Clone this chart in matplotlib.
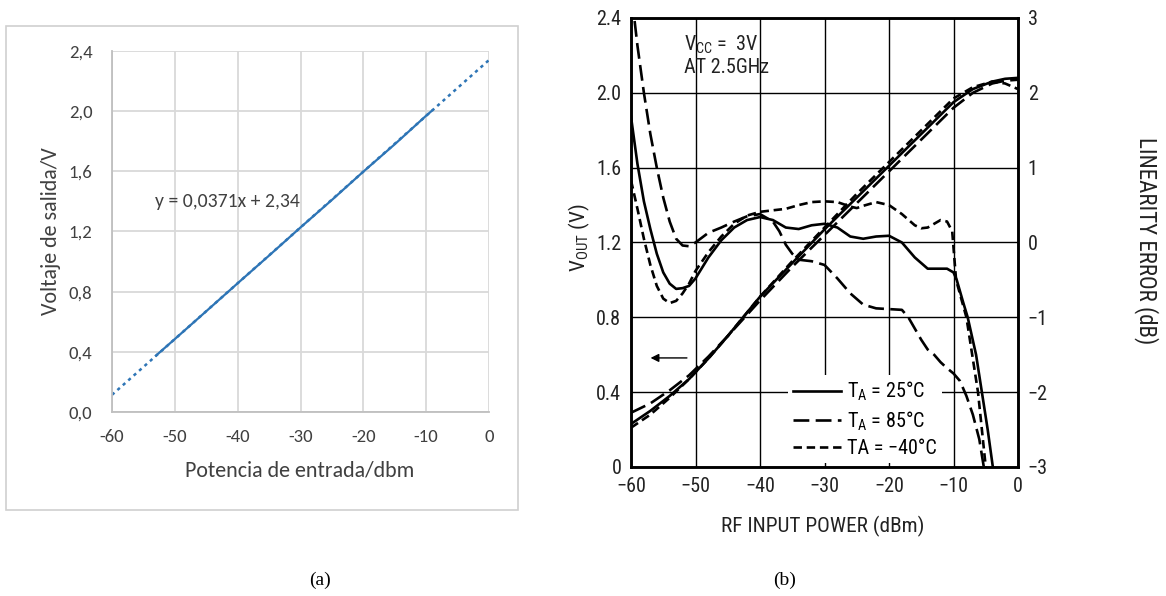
import numpy as np
import matplotlib
matplotlib.use("Agg")
import matplotlib.pyplot as plt
from matplotlib.patches import Rectangle

# ---------------- panel (a) data ----------------
a_power = [-53, -50, -45, -40, -35, -30, -25, -20, -15, -10, -9]
a_vout = [0.375, 0.485, 0.67, 0.856, 1.04, 1.227, 1.41, 1.598, 1.78, 1.97, 2.006]
fit_slope, fit_icpt = 0.0371, 2.34
a_xticks = [-60, -50, -40, -30, -20, -10, 0]
a_yticks = [0.0, 0.4, 0.8, 1.2, 1.6, 2.0, 2.4]

# ---------------- panel (b) data ----------------
# output voltage (left axis, V)
vout_x = [-60, -57, -54, -51, -48, -45, -40, -35, -30, -25, -20, -15, -10, -7, -4, -2, 0]
vout_25 = [0.23, 0.30, 0.38, 0.47, 0.58, 0.70, 0.91, 1.09, 1.27, 1.44, 1.61, 1.78, 1.95, 2.02, 2.06, 2.075, 2.08]
vout_85 = [0.29, 0.34, 0.41, 0.49, 0.59, 0.70, 0.89, 1.07, 1.24, 1.41, 1.58, 1.75, 1.92, 2.00, 2.05, 2.065, 2.07]
vout_m40 = [0.21, 0.28, 0.37, 0.47, 0.58, 0.70, 0.91, 1.10, 1.28, 1.46, 1.63, 1.80, 1.97, 2.03, 2.06, 2.05, 2.02]

# linearity error (right axis, dB)
err25_x = [-60, -59, -58, -57, -56, -55, -54, -53, -52, -51, -50, -48, -46, -44, -42, -40, -38, -36,
           -34, -32, -30, -28, -26, -24, -22, -20, -18, -16, -14, -12, -11, -10, -9.5, -8.5, -7.8,
           -6.5, -5.6, -4.7, -3.9]
err25 = [1.68, 1.05, 0.55, 0.18, -0.15, -0.40, -0.55, -0.62, -0.61, -0.58, -0.48, -0.20, 0.03, 0.20,
         0.30, 0.34, 0.30, 0.20, 0.18, 0.23, 0.25, 0.20, 0.08, 0.05, 0.08, 0.09, 0.00, -0.20, -0.35,
         -0.35, -0.35, -0.40, -0.50, -0.80, -1.00, -1.50, -2.00, -2.50, -3.00]

err85_x = [-60, -59, -58, -57, -56, -55, -54, -53, -52, -51, -50, -48, -46, -44, -42, -40, -38, -37,
           -36, -35, -34, -32, -30, -28, -26, -24, -22, -20, -18, -17, -16, -15, -14, -13, -12, -11,
           -10, -9, -8, -7, -6, -5.3]
err85 = [3.38, 2.63, 2.00, 1.45, 1.00, 0.60, 0.28, 0.05, -0.04, -0.05, 0.00, 0.13, 0.20, 0.28, 0.35,
         0.38, 0.28, 0.15, -0.03, -0.15, -0.23, -0.25, -0.30, -0.48, -0.68, -0.83, -0.88, -0.89, -0.90,
         -1.00, -1.15, -1.30, -1.43, -1.50, -1.60, -1.68, -1.75, -1.85, -2.05, -2.30, -2.63, -3.00]

errm40_x = [-60, -59, -58, -57, -56, -55, -54, -53, -52, -51, -50, -48, -46, -44, -42, -40, -38, -36,
            -34, -32, -30, -28, -26, -25, -24, -22, -20, -18, -16, -15, -14, -13, -12, -11, -10.2,
            -9.6, -8, -6.2, -5.0]
errm40 = [0.83, 0.45, 0.05, -0.30, -0.58, -0.75, -0.81, -0.78, -0.68, -0.55, -0.38, -0.13, 0.08,
          0.25, 0.36, 0.41, 0.43, 0.45, 0.50, 0.54, 0.55, 0.54, 0.48, 0.46, 0.49, 0.54, 0.50, 0.38,
          0.23, 0.19, 0.20, 0.25, 0.30, 0.28, 0.15, -0.50, -1.00, -2.00, -3.00]

b_xticks = [-60, -50, -40, -30, -20, -10, 0]
b_yticks = [0, 0.4, 0.8, 1.2, 1.6, 2.0, 2.4]
b_y2ticks = [-3, -2, -1, 0, 1, 2, 3]

fig = plt.figure(figsize=(11.66, 5.96), dpi=100)

# ================= panel (a) =================
a_font = "Carlito"
grey_txt = "#404040"
blue = "#2e75b6"

fig.patches.append(Rectangle((6 / 1166, 1 - 510 / 596), 512 / 1166, 484 / 596,
                             transform=fig.transFigure, fill=False, ec="#d0d0d0", lw=1.2))

axa = fig.add_axes([112 / 1166, 1 - 412 / 596, 377 / 1166, 361 / 596])
axa.set_xlim(-60, 0)
axa.set_ylim(0, 2.4)
axa.set_xticks(a_xticks)
axa.set_yticks(a_yticks)
axa.set_xticklabels([str(t) for t in a_xticks], fontfamily=a_font, fontsize=13.5, color=grey_txt)
axa.set_yticklabels([f"{t:.1f}".replace(".", ",") for t in a_yticks], fontfamily=a_font,
                    fontsize=13.5, color=grey_txt)
axa.tick_params(axis="x", length=0, pad=12)
axa.tick_params(axis="y", length=0, pad=14)
axa.grid(True, color="#d9d9d9", lw=1.3)
axa.set_axisbelow(True)
for s in ["top", "right"]:
    axa.spines[s].set_visible(False)
for s in ["left", "bottom"]:
    axa.spines[s].set_color("#bfbfbf")
    axa.spines[s].set_linewidth(1.3)

trend_x = np.array([-60, 0])
axa.plot(trend_x, fit_slope * trend_x + fit_icpt, color=blue, lw=1.8, ls=(0, (1.3, 1.6)))
axa.plot(a_power, a_vout, color=blue, lw=1.6)
axa.text(-53.2, 1.40, "y = 0,0371x + 2,34", fontfamily=a_font, fontsize=14.2, color=grey_txt,
         va="center", ha="left")
axa.set_xlabel("Potencia de entrada/dbm", fontfamily=a_font, fontsize=15.8, color=grey_txt)
axa.set_ylabel("Voltaje de salida/V", fontfamily=a_font, fontsize=15.8, color=grey_txt)
axa.xaxis.set_label_coords(0.499, -0.133)
axa.yaxis.set_label_coords(-0.136, 0.5)

# ================= panel (b) =================
b_font = "Roboto Condensed"
plt.rcParams["mathtext.fontset"] = "custom"
plt.rcParams["mathtext.rm"] = b_font
plt.rcParams["mathtext.it"] = b_font
plt.rcParams["mathtext.default"] = "regular"
ink = "#222222"

axb = fig.add_axes([631 / 1166, 1 - 467 / 596, 387 / 1166, 449 / 596])
axb.set_xlim(-60, 0)
axb.set_ylim(0, 2.4)
axb.set_xticks(b_xticks)
axb.set_yticks(b_yticks)
axb.set_xticklabels([str(t).replace("-", "\u2212") for t in b_xticks], fontfamily=b_font,
                    fontsize=14.5, color=ink)
axb.set_yticklabels(["0" if t == 0 else f"{t:.1f}" for t in b_yticks], fontfamily=b_font,
                    fontsize=14.5, color=ink)
axb.tick_params(length=0, pad=7)
axb.grid(True, color="black", lw=1.0)
for s in axb.spines.values():
    s.set_linewidth(1.8)

lw = 1.9
long_dash = (0, (6.0, 2.4))
short_dash = (0, (3.2, 1.8))
axb.plot(vout_x, vout_85, color="black", lw=lw, ls=long_dash)
axb.plot(vout_x, vout_m40, color="black", lw=lw, ls=short_dash)
axb.plot(vout_x, vout_25, color="black", lw=lw)

ax2 = axb.twinx()
ax2.set_ylim(-3, 3)
ax2.set_yticks(b_y2ticks)
ax2.set_yticklabels([str(t).replace("-", "\u2212") for t in b_y2ticks], fontfamily=b_font,
                    fontsize=14.5, color=ink)
ax2.tick_params(length=0, pad=7)
for s in ax2.spines.values():
    s.set_linewidth(1.8)

h1, = ax2.plot(err25_x, err25, color="black", lw=lw, label=r"T$_{A}$ = 25°C")
h2, = ax2.plot(err85_x, err85, color="black", lw=lw, ls=long_dash, label=r"T$_{A}$ = 85°C")
h3, = ax2.plot(errm40_x, errm40, color="black", lw=lw, ls=short_dash, label="TA = \u221240°C")

leg = ax2.legend(handles=[h1, h2, h3], loc="upper left", bbox_to_anchor=(0.405, 0.205),
                 prop={"family": b_font, "size": 14.5}, frameon=True, fancybox=False,
                 edgecolor="none", facecolor="white", framealpha=1, borderpad=0.25,
                 handlelength=2.4, handletextpad=0.3, labelspacing=0.3, borderaxespad=0)

axb.annotate("", xy=(-57.4, 0.583), xytext=(-50.9, 0.583),
             arrowprops=dict(arrowstyle="-|>", lw=1.0, color="black", mutation_scale=12))
axb.text(-51.8, 2.315, "V$_{CC}$ =  3V\nAT 2.5GHz", fontfamily=b_font, fontsize=14.5,
         color=ink, va="top", ha="left", linespacing=1.15)

axb.set_xlabel("RF INPUT POWER (dBm)", fontfamily=b_font, fontsize=15.3, color=ink)
axb.set_ylabel("V$_{OUT}$ (V)", fontfamily=b_font, fontsize=15.3, color=ink)
ax2.set_ylabel("LINEARITY ERROR (dB)", fontfamily=b_font, fontsize=16.5, color=ink,
               rotation=270, va="center")
axb.xaxis.set_label_coords(0.495, -0.108)
axb.yaxis.set_label_coords(-0.100, 0.51)
ax2.yaxis.set_label_coords(1.333, 0.505)

fig.text(320 / 1166, 1 - 580 / 596, "(a)", fontfamily="Liberation Serif", fontsize=14,
         ha="center", va="center")
fig.text(785 / 1166, 1 - 580 / 596, "(b)", fontfamily="Liberation Serif", fontsize=14,
         ha="center", va="center")

fig.savefig("out.png", dpi=100)
